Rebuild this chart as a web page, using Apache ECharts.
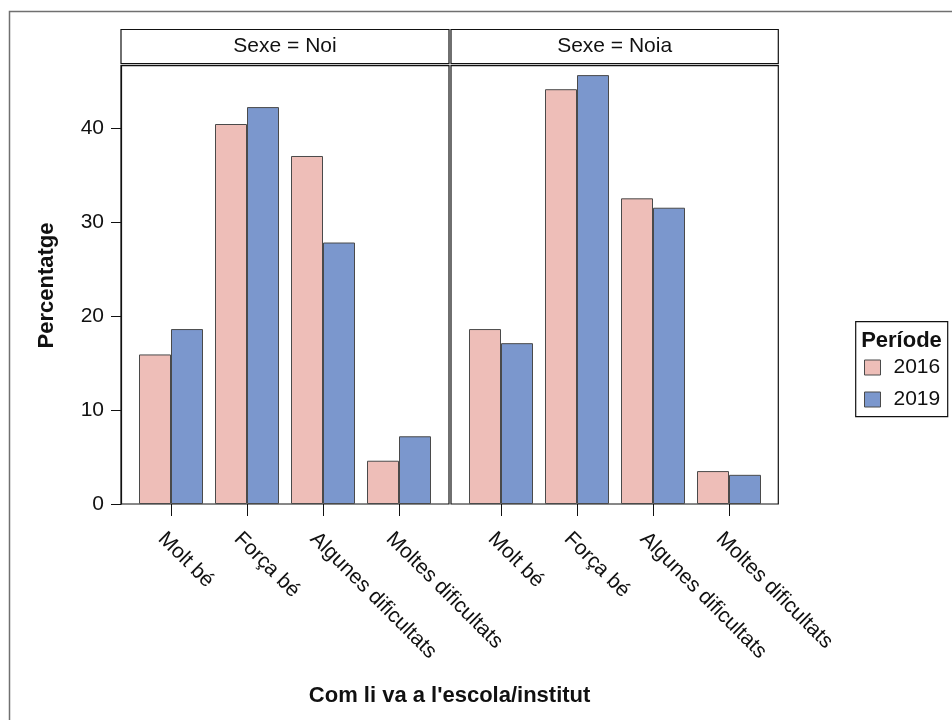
<!DOCTYPE html>
<html>
<head>
<meta charset="utf-8">
<script src="https://cdn.jsdelivr.net/npm/echarts@6/dist/echarts.min.js"></script>
<style>
html,body{margin:0;padding:0;background:#fff;}
#chart{width:952px;height:720px;}
</style>
</head>
<body>
<div id="chart"></div>
<script>
// ---- data ----
var categories = ['Molt bé', 'Força bé', 'Algunes dificultats', 'Moltes dificultats'];
var panels = ['Sexe = Noi', 'Sexe = Noia'];
var periods = ['2016', '2019'];
var noi2016 = [15.9, 40.4, 37.0, 4.6];
var noi2019 = [18.6, 42.2, 27.8, 7.2];
var noia2016 = [18.6, 44.1, 32.5, 3.5];
var noia2019 = [17.1, 45.6, 31.5, 3.1];
var yTicks = [0, 10, 20, 30, 40];
var yTitle = 'Percentatge';
var xTitle = "Com li va a l'escola/institut";
var legendTitle = 'Període';

// ---- style ----
var FONT = '"Liberation Sans", Arial, Helvetica, sans-serif';
var COL2016 = '#EEBEB8';
var COL2019 = '#7B97CD';
var YMAX = 46.6;
var TOP = 65.7, BOTTOM_Y = 504;
var H = BOTTOM_Y - TOP;
var frames = [{left: 121, width: 328}, {left: 451, width: 327.3}];
var dataOff = 12, dataW = 304;

var chart = echarts.init(document.getElementById('chart'), null, {renderer: 'canvas'});

var grids = [], xAxes = [], yAxes = [], series = [];
var panelData = [[noi2016, noi2019], [noia2016, noia2019]];
var colors = [COL2016, COL2019];

frames.forEach(function (f, p) {
  // frame grid
  grids.push({left: f.left, top: TOP, width: f.width, height: H, show: true,
    borderColor: '#111', borderWidth: 1.2, backgroundColor: 'transparent'});
  var fi = grids.length - 1;
  xAxes.push({gridIndex: fi, type: 'value', show: false, min: 0, max: 1});
  yAxes.push({gridIndex: fi, type: 'value', min: 0, max: YMAX, interval: 10,
    show: p === 0,
    axisLine: {show: true, lineStyle: {color: '#111', width: 1.2}},
    axisTick: {show: true, length: 10, customValues: yTicks, lineStyle: {color: '#111'}},
    splitLine: {show: false},
    axisLabel: {show: true, fontFamily: FONT, fontSize: 21, color: '#111', margin: 17,
      customValues: yTicks}
  });
  // data grid
  grids.push({left: f.left + dataOff, top: TOP, width: dataW, height: H, show: false});
  var di = grids.length - 1;
  xAxes.push({gridIndex: di, type: 'category', data: categories,
    axisLine: {show: false},
    axisTick: {show: true, alignWithLabel: true, length: 12, lineStyle: {color: '#111'}},
    axisLabel: {rotate: -45, fontFamily: FONT, fontSize: 21, color: '#111', margin: 22,
      interval: 0, verticalAlign: 'top', padding: [3, 0, 0, 0]}
  });
  yAxes.push({gridIndex: di, type: 'value', min: 0, max: YMAX, show: false, splitLine: {show: false}});
  panelData[p].forEach(function (vals, k) {
    series.push({
      type: 'bar', name: periods[k], xAxisIndex: di, yAxisIndex: di,
      data: vals, barWidth: 32, barGap: '0%',
      itemStyle: {color: colors[k], borderColor: '#4a4a4a', borderWidth: 1},
      emphasis: {disabled: true}, animation: false
    });
  });
});

var graphics = [
  {type: 'rect', shape: {x: 9.5, y: 11.5, width: 1200, height: 1200},
   style: {fill: 'none', stroke: '#707070', lineWidth: 1.5}, silent: true, z: -10}
];
frames.forEach(function (f, p) {
  graphics.push({type: 'rect', shape: {x: f.left, y: 29.5, width: f.width, height: 34.2},
    style: {fill: '#fff', stroke: '#111', lineWidth: 1.2}});
  graphics.push({type: 'text', x: f.left + f.width / 2, y: 46,
    style: {text: panels[p], font: '21px ' + FONT, fill: '#111', textAlign: 'center', textVerticalAlign: 'middle'}});
});
graphics.push({type: 'text', x: 46.5, y: 285.5, rotation: Math.PI / 2,
  style: {text: yTitle, font: 'bold 22px ' + FONT, fill: '#111', textAlign: 'center', textVerticalAlign: 'middle'}});
graphics.push({type: 'text', x: 449.6, y: 696,
  style: {text: xTitle, font: 'bold 22px ' + FONT, fill: '#111', textAlign: 'center', textVerticalAlign: 'middle'}});
// legend box and title
graphics.push({type: 'rect', shape: {x: 855.7, y: 321.7, width: 92, height: 95},
  style: {fill: '#fff', stroke: '#111', lineWidth: 1.2}, z: -1});
graphics.push({type: 'text', x: 901.5, y: 340.5,
  style: {text: legendTitle, font: 'bold 22px ' + FONT, fill: '#111', textAlign: 'center', textVerticalAlign: 'middle'}});

chart.setOption({
  animation: false,
  backgroundColor: '#fff',
  grid: grids,
  xAxis: xAxes,
  yAxis: yAxes,
  series: series,
  legend: {
    data: periods, orient: 'vertical', left: 864, top: 357, padding: 0,
    itemWidth: 16, itemHeight: 15, itemGap: 11, icon: 'rect',
    selectedMode: false,
    itemStyle: {borderColor: '#4a4a4a', borderWidth: 1},
    textStyle: {fontFamily: FONT, fontSize: 21, color: '#111', padding: [0, 0, 0, 8]}
  },
  graphic: graphics
});
</script>
</body>
</html>
